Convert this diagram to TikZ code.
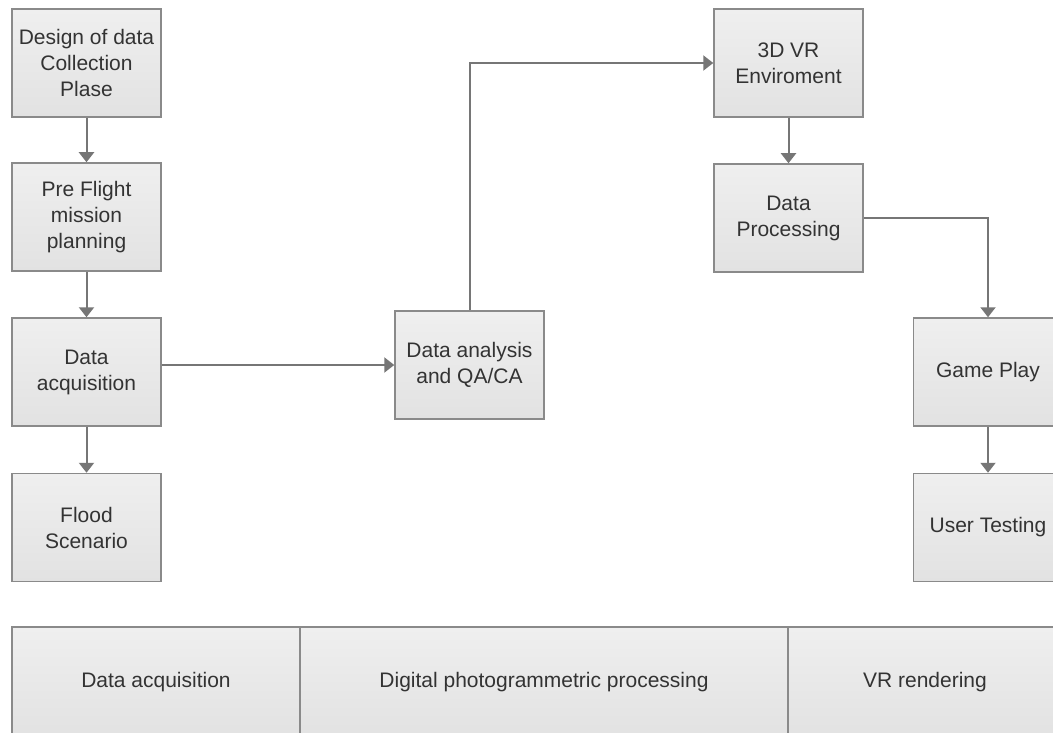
\documentclass[tikz,border=0pt]{standalone}
\usepackage{fontspec}
\setmainfont{Liberation Sans}
\usetikzlibrary{arrows.meta}
\definecolor{boxline}{HTML}{8A8A8A}
\definecolor{linec}{HTML}{767676}
\definecolor{txt}{HTML}{333333}
\definecolor{boxtop}{HTML}{EFEFEF}
\definecolor{boxbot}{HTML}{E2E2E2}
\begin{document}
\begin{tikzpicture}[x=1pt,y=-1pt,
  box/.style={draw=boxline, line width=1.5pt, top color=boxtop, bottom color=boxbot,
    minimum width=149pt, minimum height=108pt, align=center, text=txt,
    font=\fontsize{21}{26}\selectfont, inner sep=0pt},
  conn/.style={draw=linec, line width=2pt, -{Triangle[width=15pt,length=10pt]}}]
\path[use as bounding box, clip] (0,0) rectangle (1053,733);
\fill[white] (0,0) rectangle (1053,733);
% left column
\node[box] (d1) at (86.5,63) {Design of data\\Collection\\Plase};
\node[box] (d2) at (86.5,217) {Pre Flight\\mission\\planning};
\node[box] (d3) at (86.5,372) {Data\\acquisition};
\node[box] (d4) at (86.5,527.5) {Flood\\Scenario};
% middle
\node[box] (qa) at (469.5,365) {Data analysis\\and QA/CA};
% right
\node[box] (vr) at (788.5,63) {3D VR\\Enviroment};
\node[box] (dp) at (788.5,218) {Data\\Processing};
\node[box] (gp) at (988,372) {Game Play};
\node[box] (ut) at (988,527.5) {User Testing};
% bottom band
\node[box, minimum width=288pt, minimum height=110pt] (b1) at (156,682) {Data acquisition};
\node[box, minimum width=488pt, minimum height=110pt] (b2) at (544,682) {Digital photogrammetric processing};
\node[box, minimum width=274pt, minimum height=110pt] (b3) at (925,682) {VR rendering};
% connectors
\draw[conn] (d1) -- (d2);
\draw[conn] (d2) -- (d3);
\draw[conn] (d3) -- (d4);
\draw[conn] (d3.east |- qa.west) -- (qa.west);
\draw[conn] (qa.north) |- (vr.west);
\draw[conn] (vr) -- (dp);
\draw[conn] (dp.east) -| (gp.north);
\draw[conn] (gp) -- (ut);
\end{tikzpicture}
\end{document}
